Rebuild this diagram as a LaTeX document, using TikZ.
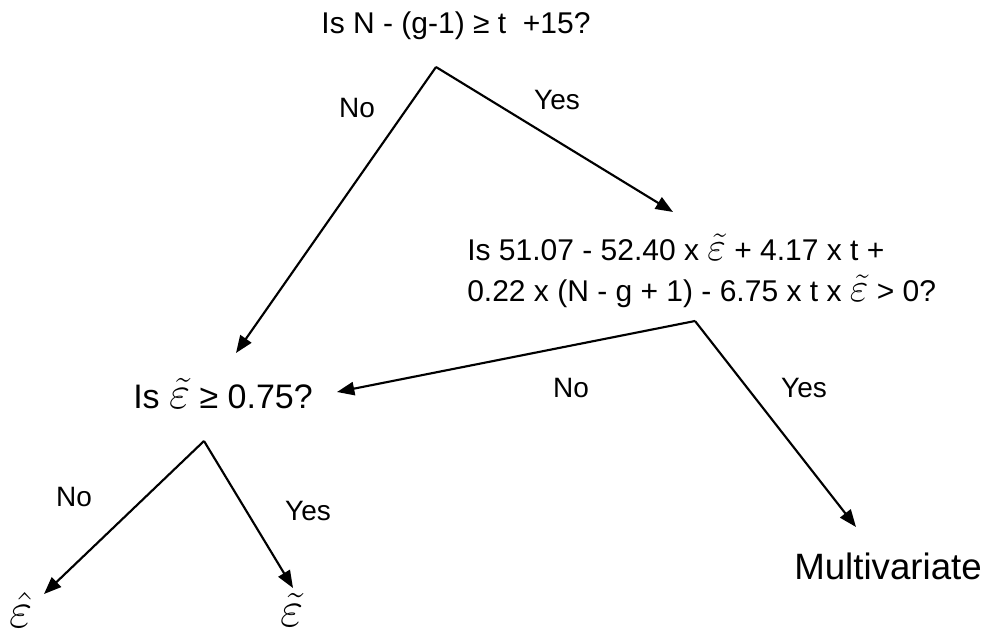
\documentclass[tikz,border=0pt]{standalone}
\usepackage{fix-cm}
\usepackage{graphicx}
\usepackage{fontspec}
\setmainfont{Liberation Sans}
\usetikzlibrary{arrows.meta}
\newcommand\epsT{\scalebox{1.35}{$\tilde{\varepsilon}$}}
\newcommand\epsH{\scalebox{1.35}{$\hat{\varepsilon}$}}
\tikzset{
  edge/.style={line width=1.6pt, -{Triangle[length=13pt,width=10pt]}},
  lab/.style={font=\fontsize{21}{25}\selectfont, inner sep=0pt},
  q/.style={font=\fontsize{22.5}{30}\selectfont, inner sep=0pt},
}
\begin{document}
\begin{tikzpicture}[x=0.75pt,y=-0.75pt]
\useasboundingbox (0,0) rectangle (984,635);
% questions
\node[q] (root) at (456,26) {Is N - (g-1) ≥ t \ +15?};
\node[q, align=left, anchor=west] (q2) at (467,271) {Is 51.07 - 52.40 x \epsT{} + 4.17 x t +\\[1pt]0.22 x (N - g + 1) - 6.75 x t x \epsT{} > 0?};
\node[q, font=\fontsize{25.5}{30}\selectfont, anchor=west] (q3) at (133,394) {Is \epsT{} ≥ 0.75?};
\node[inner sep=0pt, font=\fontsize{27.5}{34}\selectfont, anchor=east] (mv) at (982,566) {Multivariate};
\node[inner sep=0pt, font=\fontsize{28}{34}\selectfont] (ehat) at (21,610) {\epsH};
\node[inner sep=0pt, font=\fontsize{28}{34}\selectfont] (etil) at (292,610) {\epsT};
% apex / tips
\coordinate (a1) at (436,67);
\coordinate (t1l) at (236,353);
\coordinate (t1r) at (673,212);
\coordinate (a2) at (695,321);
\coordinate (t2l) at (337,392);
\coordinate (t2r) at (856,527);
\coordinate (a3) at (204,441);
\coordinate (t3l) at (44,594);
\coordinate (t3r) at (293,588);
\draw[edge] (a1) -- (t1l);
\draw[edge] (a1) -- (t1r);
\draw[edge] (a2) -- (t2l);
\draw[edge] (a2) -- (t2r);
\draw[edge] (a3) -- (t3l);
\draw[edge] (a3) -- (t3r);
% labels
\node[lab] (n1) at (357,108) {No};
\node[lab] (y1) at (557,100) {Yes};
\node[lab] (n2) at (571,388) {No};
\node[lab] (y2) at (804,388) {Yes};
\node[lab] (n3) at (74,497) {No};
\node[lab] (y3) at (308,511) {Yes};
\end{tikzpicture}
\end{document}
